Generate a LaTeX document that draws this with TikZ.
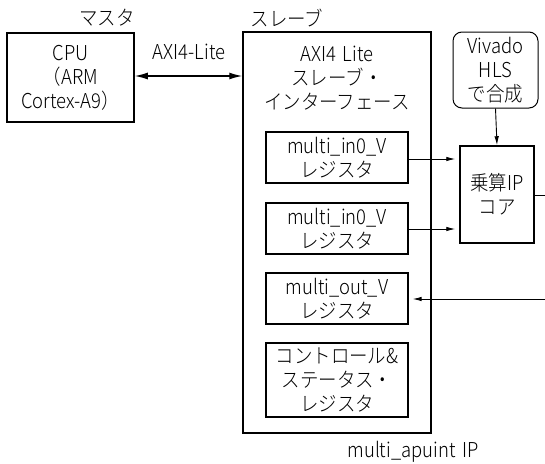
\documentclass[tikz,border=0pt]{standalone}
\usepackage{fontspec}
\setmainfont{Noto Sans CJK JP Light}[FakeStretch=0.9, WordSpace=1.6]
\usetikzlibrary{positioning}
\usetikzlibrary{arrows.meta}

\begin{document}
\begin{tikzpicture}[x=1pt,y=-1pt,
  every node/.style={font=\fontsize{20.5}{24}\selectfont, inner sep=0pt, align=center},
  bigbox/.style={draw, line width=1.5pt},
  regbox/.style={draw, line width=1.3pt, minimum width=142pt},
  thinarrow/.style={line width=0.9pt, -{Latex[length=9pt,width=4.5pt]}},
  busarrow/.style={line width=1.4pt, {Latex[length=13pt,width=7pt]}-{Latex[length=13pt,width=7pt]}}]

\useasboundingbox (0,0) rectangle (545,463);

% master side
\node[bigbox, minimum width=127pt, minimum height=89pt] (cpu) at (70.5,77.5)
  {CPU\\（ARM\\Cortex-A9）};
\node (mastlbl) at (107,18) {マスタ};

% slave side
\node[bigbox, minimum width=188pt, minimum height=401pt] (slave) at (337,232.5) {};
\node (slavelbl) at (287,18) {スレーブ};
\node (slvif) at (337,78) {AXI4 Lite\\スレーブ・\\インターフェース};

\node[regbox, minimum height=51pt] (regin0) at (337,157.5) {multi\_in0\_V\\レジスタ};
\node[regbox, minimum height=51pt] (regin1) at (337,228.5) {multi\_in0\_V\\レジスタ};
\node[regbox, minimum height=51pt] (regout) at (337,298.5) {multi\_out\_V\\レジスタ};
\node[regbox, minimum height=74pt] (regctl) at (337,380) {コントロール\&\\ステータス・\\レジスタ};

\node (iplbl) at (413,452) {multi\_apuint IP};

% HLS core
\node[draw, line width=1pt, rounded corners=9pt, minimum width=85pt, minimum height=76pt] (hls) at (495.5,70)
  {Vivado\\HLS\\で合成};
\node[bigbox, minimum width=74pt, minimum height=97pt] (mult) at (497,194.5) {乗算IP\\コア};

\coordinate (outR) at (545,195);
\coordinate (retR) at (545,299);

% bus
\node (buslbl) at (189,52) {AXI4-Lite};
\draw[busarrow] (cpu.east |- 0,76) -- (slave.west |- 0,76);

% connections
\draw[thinarrow] (hls.south) -- (mult.north);
\draw[thinarrow, shorten >=4pt] (regin0.east |- 0,159) -- (mult.west |- 0,159);
\draw[thinarrow, shorten >=4pt] (regin1.east |- 0,229) -- (mult.west |- 0,229);
\draw[line width=0.9pt] (mult.east |- outR) -- (outR);
\draw[thinarrow, shorten >=4pt] (retR) -- (regout.east |- retR);

\end{tikzpicture}
\end{document}
